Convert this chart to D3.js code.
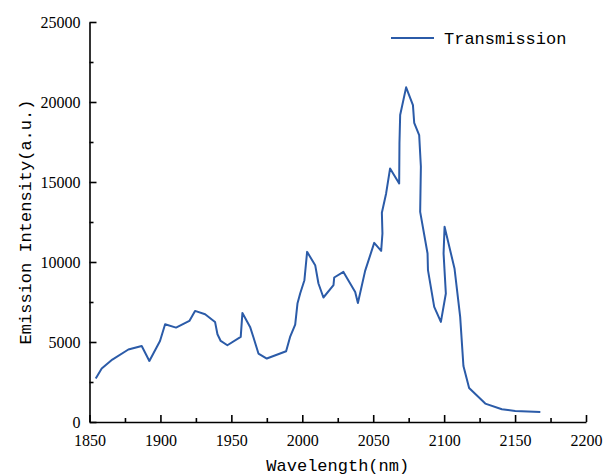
<!DOCTYPE html>
<meta charset="utf-8">
<head>
<style>
body { margin: 0; background: #fff; }
.line { fill: none; stroke: #2b5ba8; stroke-width: 2px; stroke-linejoin: round; }
.axis path, .axis line { stroke: #000; stroke-width: 1.6px; }
.title { font-family: "Liberation Mono", "DejaVu Sans Mono", monospace; font-size: 17px; fill: #000; }
</style>
</head>
<body>
<script src="https://d3js.org/d3.v7.min.js"></script>
<script>

// data
var wavelength = [1854.4, 1858.6, 1866.1, 1877.4, 1886.8, 1892.2, 1899.7, 1903.3, 1911, 1920.4,
  1924.4, 1931.5, 1938.5, 1940.2, 1942.5, 1947.2, 1956.6, 1957.8, 1963.2, 1965.5,
  1969.1, 1975, 1988.6, 1991.4, 1995, 1996.6, 1998.5, 2001.5, 2003.4, 2009.1,
  2011.4, 2014.9, 2022, 2022.5, 2029, 2037.3, 2039.2, 2044.3, 2050.7, 2055.6,
  2056.5, 2056.1, 2059.1, 2061.9, 2068.3, 2068.5, 2069, 2073.2, 2078, 2078.9,
  2082.4, 2083.6, 2083.1, 2088.3, 2088.6, 2093, 2097.7, 2101.2, 2099.6, 2100.3,
  2107.3, 2111.3, 2113.6, 2117.6, 2129, 2140.7, 2150.1, 2167.8];
var intensity = [2714, 3340, 3900, 4530, 4750, 3815, 5066, 6110, 5900, 6317,
  6943, 6736, 6255, 5485, 5066, 4797, 5316, 6818, 5942, 5316,
  4278, 3965, 4422, 5316, 6092, 7405, 8031, 8863, 10633, 9801,
  8656, 7781, 8550, 9032, 9382, 8131, 7443, 9445, 11196, 10696,
  11784, 13073, 14286, 15849, 14911, 17413, 19183, 20916, 19808, 18702,
  17932, 15950, 13135, 10533, 9488, 7193, 6255, 8031, 10533, 12197,
  9595, 6567, 3503, 2127, 1151, 794, 688, 625];
var seriesName = "Transmission";
var xTicks = [1850, 1900, 1950, 2000, 2050, 2100, 2150, 2200];
var yTicks = [0, 5000, 10000, 15000, 20000, 25000];

var data = wavelength.map(function(w, i) { return {w: w, v: intensity[i]}; });

var margin = {top: 22, right: 25, bottom: 53, left: 89.5},
    width = 611 - margin.left - margin.right,
    height = 475 - margin.top - margin.bottom;

var x = d3.scaleLinear().domain([1850, 2200]).range([0, width]);
var y = d3.scaleLinear().domain([0, 25000]).range([height, 0]);

var svg = d3.select("body").append("svg")
    .attr("width", 611)
    .attr("height", 475)
  .append("g")
    .attr("transform", "translate(" + margin.left + "," + margin.top + ")");

// minor ticks (inward)
svg.append("g")
    .attr("class", "axis")
    .attr("transform", "translate(0," + height + ")")
    .call(d3.axisBottom(x).tickValues(d3.range(1875, 2200, 50)).tickSize(-4).tickFormat(""))
    .select(".domain").remove();
svg.append("g")
    .attr("class", "axis")
    .call(d3.axisLeft(y).tickValues(d3.range(2500, 25000, 5000)).tickSize(-4).tickFormat(""))
    .select(".domain").remove();

// major axes
var xAxis = svg.append("g")
    .attr("class", "axis")
    .attr("transform", "translate(0," + height + ")")
    .call(d3.axisBottom(x).tickValues(xTicks).tickSize(-7).tickSizeOuter(0).tickPadding(13).tickFormat(d3.format("d")));
var yAxis = svg.append("g")
    .attr("class", "axis")
    .call(d3.axisLeft(y).tickValues(yTicks).tickSize(-7).tickSizeOuter(0).tickPadding(9).tickFormat(d3.format("d")));

[xAxis, yAxis].forEach(function(a) {
  a.attr("font-family", "Liberation Serif, DejaVu Serif, serif").attr("font-size", 16);
  a.selectAll("text").attr("fill", "#000");
});

// the curve
svg.append("path")
    .datum(data)
    .attr("class", "line")
    .attr("d", d3.line().x(function(d) { return x(d.w); }).y(function(d) { return y(d.v); }));

// axis titles
svg.append("text")
    .attr("class", "title")
    .attr("text-anchor", "middle")
    .attr("x", width / 2)
    .attr("y", height + 49)
    .text("Wavelength(nm)");
svg.append("text")
    .attr("class", "title")
    .attr("text-anchor", "middle")
    .attr("transform", "translate(" + (-margin.left + 31) + "," + (height / 2) + ") rotate(-90)")
    .text("Emission Intensity(a.u.)");

// legend
var lg = svg.append("g").attr("transform", "translate(" + (391 - margin.left) + "," + (38 - margin.top) + ")");
lg.append("line")
    .attr("x1", 0).attr("x2", 43).attr("y1", 0).attr("y2", 0)
    .attr("stroke", "#2b5ba8").attr("stroke-width", 2);
lg.append("text")
    .attr("class", "title")
    .attr("x", 53)
    .attr("y", 6)
    .text(seriesName);

</script>
</body>
